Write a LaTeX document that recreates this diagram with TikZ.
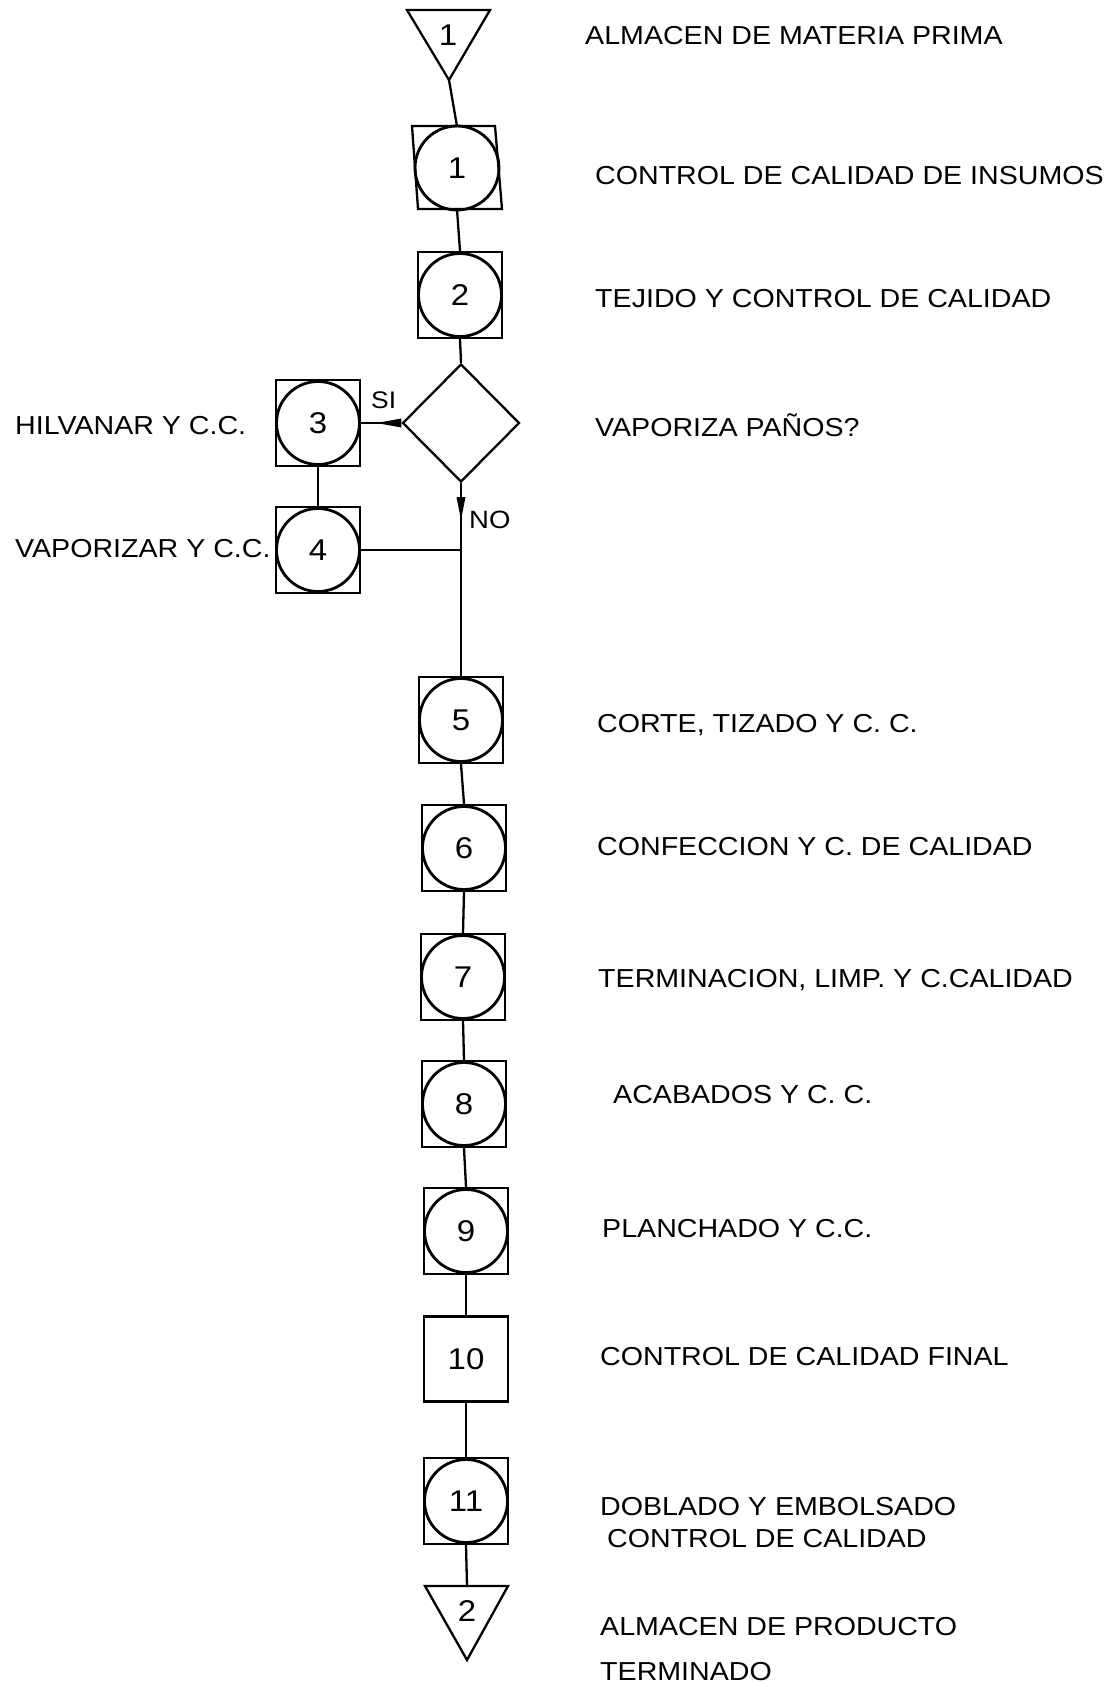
\documentclass[tikz,border=0pt]{standalone}
\usepackage{fontspec}
\setmainfont{Liberation Sans}[FakeStretch=1.1]
\usetikzlibrary{shapes.geometric}
\tikzset{
  conn/.style={line width=2.3pt},
  opbox/.style={draw, line width=2.3pt, minimum width=84pt, minimum height=86pt, inner sep=0pt, font=\fontsize{30}{31}\selectfont},
  ring/.style={line width=2.8pt},
  lbl/.style={anchor=base west, inner sep=0pt, font=\fontsize{26}{30}\selectfont},
  tri/.style={line width=2.3pt, line join=miter},
  numf/.style={inner sep=0pt, font=\fontsize{30}{31}\selectfont},
}
\newcommand\opnode[4]{%
  \node[opbox] (#1) at (#2,#3) {#4};
  \draw[ring] (#1.center) circle[radius=41.5pt];}
\begin{document}
\begin{tikzpicture}[x=1pt,y=-1pt]
\useasboundingbox[fill=white] (0,0) rectangle (1112,1683);

% storage 1
\draw[tri] (407,10) -- (490,10) -- (449,80) -- cycle;
\coordinate (t1) at (449,80);
\node[numf] (t1n) at (448,35) {1};

% box 1 (slanted)
\node[numf, minimum width=84pt, minimum height=83pt] (b1) at (457,168) {1};
\draw[conn] (412,126) -- (495,126) -- (502,209) -- (418,209) -- cycle;
\draw[ring] (b1.center) circle[radius=42pt];

\opnode{b2}{460}{295}{2}
\node[diamond, draw, line width=2.3pt, minimum width=117pt, minimum height=118pt, inner sep=0pt] (d) at (461,423) {};
\opnode{b3}{318}{423}{3}
\opnode{b4}{318}{550}{4}
\opnode{b5}{461}{720}{5}
\opnode{b6}{464}{848}{6}
\opnode{b7}{463}{977}{7}
\opnode{b8}{464}{1104}{8}
\opnode{b9}{466}{1231}{9}
\node[opbox, minimum height=85pt] (b10) at (466,1359) {10};
\opnode{b11}{466}{1501}{11}

% storage 2
\draw[tri] (425,1586) -- (508,1586) -- (467,1660) -- cycle;
\coordinate (t2top) at (467,1586);
\node[numf] (t2n) at (467,1611) {2};

% connectors
\draw[conn] (t1) -- (b1.north);
\draw[conn] (b1.south) -- (b2.north);
\draw[conn] (b2.south) -- (d.north);
\draw[conn] (d.west) -- (b3.east);
\fill (d.west) ++(0,-4.5) -- ++(-25,4.5) -- ++(25,4.5) -- cycle;
\draw[conn] (b3.south) -- (b4.north);
\coordinate (j) at (461,550);
\draw[conn] (d.south) -- (j) -- (b5.north);
\fill (461,497) ++(-4.5,0) -- ++(4.5,23) -- ++(4.5,-23) -- cycle;
\draw[conn] (b4.east) -- (j);
\draw[conn] (b5.south) -- (b6.north);
\draw[conn] (b6.south) -- (b7.north);
\draw[conn] (b7.south) -- (b8.north);
\draw[conn] (b8.south) -- (b9.north);
\draw[conn] (b9.south) -- (b10.north);
\draw[conn] (b10.south) -- (b11.north);
\draw[conn] (b11.south) -- (t2top);

% branch labels
\node[lbl, font=\fontsize{24}{26}\selectfont] (si) at (371,408) {SI};
\node[lbl, font=\fontsize{25}{26}\selectfont] (no) at (469,528) {NO};

% descriptions
\node[lbl] (l1) at (585,45) {ALMACEN DE MATERIA PRIMA};
\node[lbl] (l2) at (595,184) {CONTROL DE CALIDAD DE INSUMOS};
\node[lbl] (l3) at (595,307) {TEJIDO Y CONTROL DE CALIDAD};
\node[lbl] (l4) at (595,436) {VAPORIZA PAÑOS?};
\node[lbl] (l5) at (15,434) {HILVANAR Y C.C.};
\node[lbl] (l6) at (15,557) {VAPORIZAR Y C.C.};
\node[lbl] (l7) at (597,732) {CORTE, TIZADO Y C. C.};
\node[lbl] (l8) at (597,855) {CONFECCION Y C. DE CALIDAD};
\node[lbl] (l9) at (598,987) {TERMINACION, LIMP. Y C.CALIDAD};
\node[lbl] (l10) at (613,1103) {ACABADOS Y C. C.};
\node[lbl] (l11) at (602,1237) {PLANCHADO Y C.C.};
\node[lbl] (l12) at (600,1365) {CONTROL DE CALIDAD FINAL};
\node[lbl] (l13a) at (600,1515) {DOBLADO Y EMBOLSADO};
\node[lbl] (l13b) at (607,1547) {CONTROL DE CALIDAD};
\node[lbl] (l14a) at (600,1635) {ALMACEN DE PRODUCTO};
\node[lbl] (l14b) at (600,1680) {TERMINADO};
\end{tikzpicture}
\end{document}
